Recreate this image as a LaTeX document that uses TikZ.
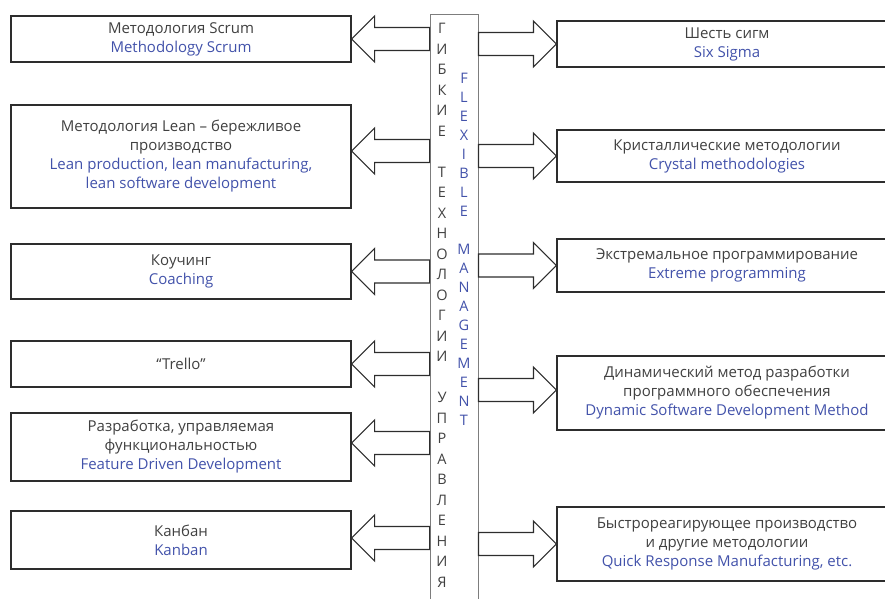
\documentclass[tikz,border=0pt]{standalone}
\usepackage{fontspec}
\setmainfont{Open Sans}
\usetikzlibrary{calc}

\definecolor{textgray}{RGB}{64,64,64}
\definecolor{engblue}{RGB}{66,82,170}
\definecolor{linegray}{RGB}{45,45,45}
\definecolor{colgray}{RGB}{125,125,125}

\tikzset{
  methodbox/.style={draw=linegray, line width=1.1pt, minimum width=340, align=center,
    inner sep=2pt, text=textgray, font=\fontsize{15}{19}\selectfont},
  blockarrow/.style={draw=linegray, line width=1.1pt, to path={
    let \p1=(\tikztostart), \p2=(\tikztotarget),
        \n1={ifthenelse(\x2>\x1,1,-1)} in
    (\x1,\y2+11.5pt) -- (\x2-\n1*23pt,\y2+11.5pt) -- (\x2-\n1*23pt,\y2+23pt)
    -- (\x2,\y2) -- (\x2-\n1*23pt,\y2-23pt) -- (\x2-\n1*23pt,\y2-11.5pt)
    -- (\x1,\y2-11.5pt) -- cycle}},
}

\begin{document}
\begin{tikzpicture}[x=1pt, y=1pt]
  \useasboundingbox (0,0) rectangle (885,598);

  % central column
  \node[draw=colgray, line width=0.9pt, minimum width=48, minimum height=589, inner sep=0] (col) at (454,289.5) {};
  \node[font=\fontsize{14.5}{20.5}\selectfont, text=textgray, align=center, inner sep=0, anchor=north] (ruletters) at (442,575)
    {Г\\И\\Б\\К\\И\\Е\\[20.5pt]Т\\Е\\Х\\Н\\О\\Л\\О\\Г\\И\\И\\[20.5pt]У\\П\\Р\\А\\В\\Л\\Е\\Н\\И\\Я};
  \node[font=\fontsize{14.5}{19}\selectfont, text=engblue, align=center, inner sep=0, anchor=north] (enletters) at (464,525)
    {F\\L\\E\\X\\I\\B\\L\\E\\[19pt]M\\A\\N\\A\\G\\E\\M\\E\\N\\T};

  % left side
  \node[methodbox, minimum height=46] (lscrum) at (181,559)
    {Методология Scrum\\ \textcolor{engblue}{Methodology Scrum}};
  \node[methodbox, minimum height=103] (llean) at (181,441.5)
    {Методология Lean -- бережливое\\ производство\\
     \textcolor{engblue}{Lean production, lean manufacturing,}\\ \textcolor{engblue}{lean software development}};
  \node[methodbox, minimum height=55] (lcoach) at (181,326.5)
    {Коучинг\\ \textcolor{engblue}{Coaching}};
  \node[methodbox, minimum height=46] (ltrello) at (181,234) {“Trello”};
  \node[methodbox, minimum height=68] (lfdd) at (181,151)
    {Разработка, управляемая\\ функциональностью\\ \textcolor{engblue}{Feature Driven Development}};
  \node[methodbox, minimum height=58] (lkanban) at (181,58)
    {Канбан\\ \textcolor{engblue}{Kanban}};

  \path[blockarrow] (col.west) to (lscrum.east);
  \path[blockarrow] (col.west) to ([yshift=5.5pt]llean.east);
  \path[blockarrow] (col.west) to (lcoach.east);
  \path[blockarrow] (col.west) to (ltrello.east);
  \path[blockarrow] (col.west) to ([yshift=4pt]lfdd.east);
  \path[blockarrow] (col.west) to ([yshift=2pt]lkanban.east);

  % right side
  \node[methodbox, minimum height=46] (rsigma) at (727,554)
    {Шесть сигм\\ \textcolor{engblue}{Six Sigma}};
  \node[methodbox, minimum height=52] (rcrystal) at (727,442)
    {Кристаллические методологии\\ \textcolor{engblue}{Crystal methodologies}};
  \node[methodbox, minimum height=53] (rxp) at (727,332.5)
    {Экстремальное программирование\\ \textcolor{engblue}{Extreme programming}};
  \node[methodbox, minimum height=74] (rdsdm) at (727,205)
    {Динамический метод разработки\\ программного обеспечения\\ \textcolor{engblue}{Dynamic Software Development Method}};
  \node[methodbox, minimum height=74] (rqrm) at (727,54)
    {Быстрореагирующее производство\\ и другие методологии\\ \textcolor{engblue}{Quick Response Manufacturing, etc.}};

  \path[blockarrow] (col.east) to (rsigma.west);
  \path[blockarrow] (col.east) to (rcrystal.west);
  \path[blockarrow] (col.east) to (rxp.west);
  \path[blockarrow] (col.east) to ([yshift=3pt]rdsdm.west);
  \path[blockarrow] (col.east) to (rqrm.west);

\end{tikzpicture}
\end{document}
